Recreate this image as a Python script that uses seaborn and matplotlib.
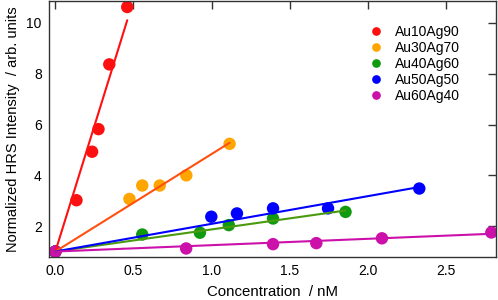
"""
HRS intensity vs concentration for AuAg alloy nanoparticles.
"""

import numpy as np
import pandas as pd
import matplotlib
matplotlib.use("Agg")
import matplotlib.pyplot as plt
import seaborn as sns

# --- Data ---
samples = ["Au10Ag90", "Au30Ag70", "Au40Ag60", "Au50Ag50", "Au60Ag40"]

conc_au10 = [0.0, 0.135, 0.235, 0.276, 0.345, 0.46]
hrs_au10 = [1.0, 3.02, 4.93, 5.82, 8.37, 10.63]

conc_au30 = [0.0, 0.474, 0.556, 0.668, 0.838, 1.115]
hrs_au30 = [1.0, 3.07, 3.60, 3.60, 4.00, 5.24]

conc_au40 = [0.0, 0.556, 0.925, 1.11, 1.393, 1.857]
hrs_au40 = [1.0, 1.67, 1.74, 2.04, 2.30, 2.56]

conc_au50 = [0.0, 0.998, 1.162, 1.393, 1.745, 2.329]
hrs_au50 = [1.0, 2.37, 2.50, 2.70, 2.70, 3.48]

conc_au60 = [0.0, 0.837, 1.393, 1.67, 2.09, 2.79]
hrs_au60 = [1.0, 1.12, 1.29, 1.33, 1.52, 1.75]

# linear fit slopes (intercept fixed at 1)
fit_slopes = [19.8, 3.84, 0.87, 1.09, 0.25]

marker_colors = ["#ff1010", "#ffa500", "#109a10", "#0000ff", "#cc10aa"]
line_colors = ["#ff1010", "#ff5010", "#4a9a10", "#0000ff", "#cc10aa"]

# --- Build long table ---
conc_lists = [conc_au10, conc_au30, conc_au40, conc_au50, conc_au60]
hrs_lists = [hrs_au10, hrs_au30, hrs_au40, hrs_au50, hrs_au60]
frames = []
for name, xs, ys in zip(samples, conc_lists, hrs_lists):
    frames.append(pd.DataFrame({"conc": xs, "hrs": ys, "sample": name}))
df = pd.concat(frames, ignore_index=True)

# --- Plot ---
sns.set_style("white")
plt.rcParams["font.family"] = ["Liberation Sans", "DejaVu Sans"]
plt.rcParams["font.size"] = 10
plt.rcParams["text.color"] = "black"
plt.rcParams["axes.labelcolor"] = "black"
plt.rcParams["xtick.color"] = "black"
plt.rcParams["ytick.color"] = "black"

fig, ax = plt.subplots(figsize=(4.98, 3.0), dpi=100)

# fit lines
for name, xs, slope, col in zip(samples, conc_lists, fit_slopes, line_colors):
    xfit = np.array([0.0, max(xs)])
    ax.plot(xfit, 1.0 + slope * xfit, color=col, lw=1.5, zorder=3)

sns.scatterplot(data=df, x="conc", y="hrs", hue="sample", hue_order=samples,
                palette=marker_colors, s=80, edgecolor="none", ax=ax, zorder=2)

ax.set_xlim(-0.042, 2.82)
ax.set_ylim(0.78, 10.87)
ax.set_xticks([0.0, 0.5, 1.0, 1.5, 2.0, 2.5])
ax.set_xticklabels(["0.0", "0.5", "1.0", "1.5", "2.0", "2.5"])
ax.set_yticks([2, 4, 6, 8, 10])
ax.set_xlabel("Concentration  / nM", fontsize=10.8, labelpad=5)
ax.set_ylabel("Normalized HRS Intensity  / arb. units", fontsize=10.5, labelpad=5)

for side in ["top", "right", "bottom", "left"]:
    ax.spines[side].set_color("#333333")
    ax.spines[side].set_linewidth(1.0)
ax.tick_params(direction="in", length=6, width=1.0, color="#333333",
               top=True, right=True, labelsize=10, pad=5,
               labelcolor="black")

ax.legend(loc="upper left", bbox_to_anchor=(0.688, 0.928), frameon=False,
          handlelength=2.0, handletextpad=0.37, labelspacing=0.15,
          borderaxespad=0.0, fontsize=10, markerscale=0.7, title=None)

fig.subplots_adjust(left=0.098, right=0.996, top=0.997, bottom=0.143)
plt.savefig("out.png", dpi=100)
plt.close()
